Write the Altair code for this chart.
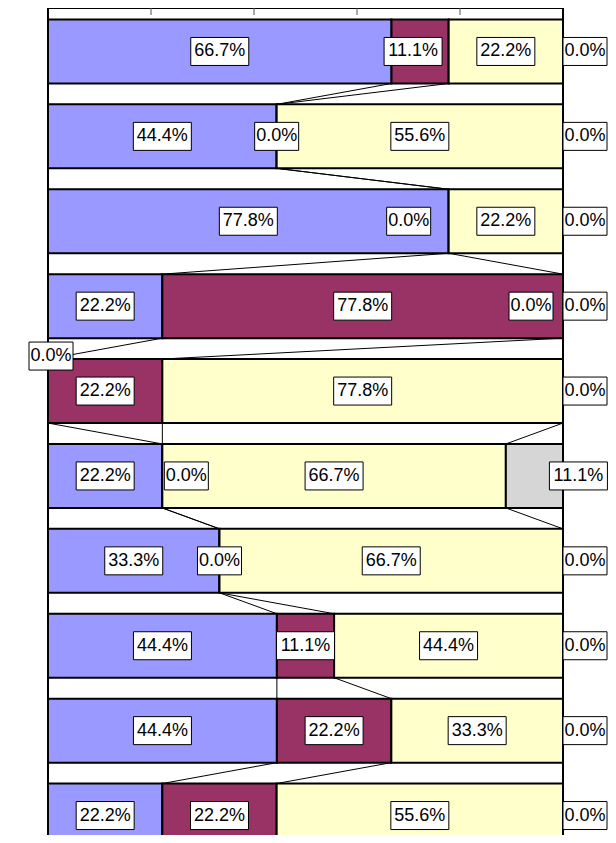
import altair as alt
import pandas as pd

# ---- data ----
rows = ["1", "2", "3", "4", "5", "6", "7", "8", "9", "10"]
series = ["系列1", "系列2", "系列3", "系列4"]
s1 = [66.7, 44.4, 77.8, 22.2, 0.0, 22.2, 33.3, 44.4, 44.4, 22.2]
s2 = [11.1, 0.0, 0.0, 77.8, 22.2, 0.0, 0.0, 11.1, 22.2, 22.2]
s3 = [22.2, 55.6, 22.2, 0.0, 77.8, 66.7, 66.7, 44.4, 33.3, 55.6]
s4 = [0.0, 0.0, 0.0, 0.0, 0.0, 11.1, 0.0, 0.0, 0.0, 0.0]
tick_values = [0.2, 0.4, 0.6, 0.8]

# ---- style ----
colors = ["#9999FF", "#993366", "#FFFFCC", "#D6D6D6"]
W, H = 515, 851
FONT = "Liberation Sans"

# label nudges in pixels (dx, dy), like Excel's overlap handling
tweak = {(i, 3): (22, 0) for i in range(len(rows))}
tweak[(5, 3)] = (44, 0)
tweak[(0, 1)] = (-7, 0)
tweak[(2, 1)] = (-40, 0)
tweak[(3, 2)] = (-32, 0)
tweak[(4, 0)] = (3, -35)
tweak[(5, 1)] = (24, 0)

vals = [s1, s2, s3, s4]
bar_recs, lab_recs, cum = [], [], []
for i, r in enumerate(rows):
    tot = sum(v[i] for v in vals)
    c = 0.0
    cl = []
    for k, s in enumerate(series):
        v = vals[k][i]
        bar_recs.append(dict(row=r, series=s, k=k, value=v))
        dx, dy = tweak.get((i, k), (0, 0))
        lab = f"{v:.1f}%"
        lab_recs.append(dict(row=r, k=k, lx=(c + v / 2) / tot + dx / W, lift=dy,
                             label=lab, w="s" if len(lab) < 5 else "l"))
        c += v
        cl.append(c / tot)
    cum.append(cl)

line_recs = []
for i in range(len(rows) - 1):
    for k in range(len(series)):
        line_recs.append(dict(row=rows[i], nxt=rows[i + 1], x0=cum[i][k], x1=cum[i + 1][k]))

bdf = pd.DataFrame(bar_recs)
ldf = pd.DataFrame(lab_recs)
sdf = pd.DataFrame(line_recs)

xscale = alt.Scale(domain=[0, 1], nice=False, zero=True)
yscale = alt.Scale(domain=rows, paddingInner=0.246, paddingOuter=0.135)

bars = alt.Chart(bdf).mark_bar(stroke="black", strokeWidth=2).encode(
    x=alt.X("value:Q", stack="normalize", scale=xscale, axis=None),
    y=alt.Y("row:N", scale=yscale, axis=None),
    color=alt.Color("series:N", scale=alt.Scale(domain=series, range=colors), legend=None),
    order=alt.Order("k:Q"),
)

lines = alt.Chart(sdf).mark_rule(color="black", strokeWidth=1).encode(
    x=alt.X("x0:Q", scale=xscale, axis=None),
    x2="x1:Q",
    y=alt.Y("row:N", bandPosition=1, scale=yscale, axis=None),
    y2=alt.Y2("nxt:N", bandPosition=0),
)

ticks = alt.Chart(pd.DataFrame({"t": tick_values})).mark_rule(color="#555555", strokeWidth=1).encode(
    x=alt.X("t:Q", scale=xscale, axis=None),
    y=alt.value(0),
    y2=alt.value(7),
)

pathS = "M-22,-14H22V14H-22Z"
pathL = "M-29,-14H29V14H-29Z"

label_layers = []
for dy in sorted(set(ldf["lift"])):
    base = alt.Chart(ldf).transform_filter(alt.datum.lift == int(dy))
    box = base.mark_point(filled=True, fill="white", stroke="black", strokeWidth=1,
                          size=4, opacity=1, yOffset=int(dy)).encode(
        x=alt.X("lx:Q", scale=xscale, axis=None),
        y=alt.Y("row:N", scale=yscale, axis=None),
        shape=alt.Shape("w:N", scale=alt.Scale(domain=["s", "l"], range=[pathS, pathL]), legend=None),
    )
    txt = base.mark_text(font=FONT, fontSize=18, color="black", baseline="middle",
                         align="center", yOffset=int(dy)).encode(
        x=alt.X("lx:Q", scale=xscale, axis=None),
        y=alt.Y("row:N", scale=yscale, axis=None),
        text="label:N",
    )
    label_layers += [box, txt]

chart = alt.layer(bars, lines, ticks, *label_layers).properties(
    width=W, height=H,
    padding={"left": 40, "top": 0, "right": 45, "bottom": -24},
    autosize=alt.AutoSizeParams(type="none"),
    background="white",
).configure_view(stroke="black", strokeWidth=2)

chart.save("out.html", embed_options={"renderer": "svg", "actions": False})
